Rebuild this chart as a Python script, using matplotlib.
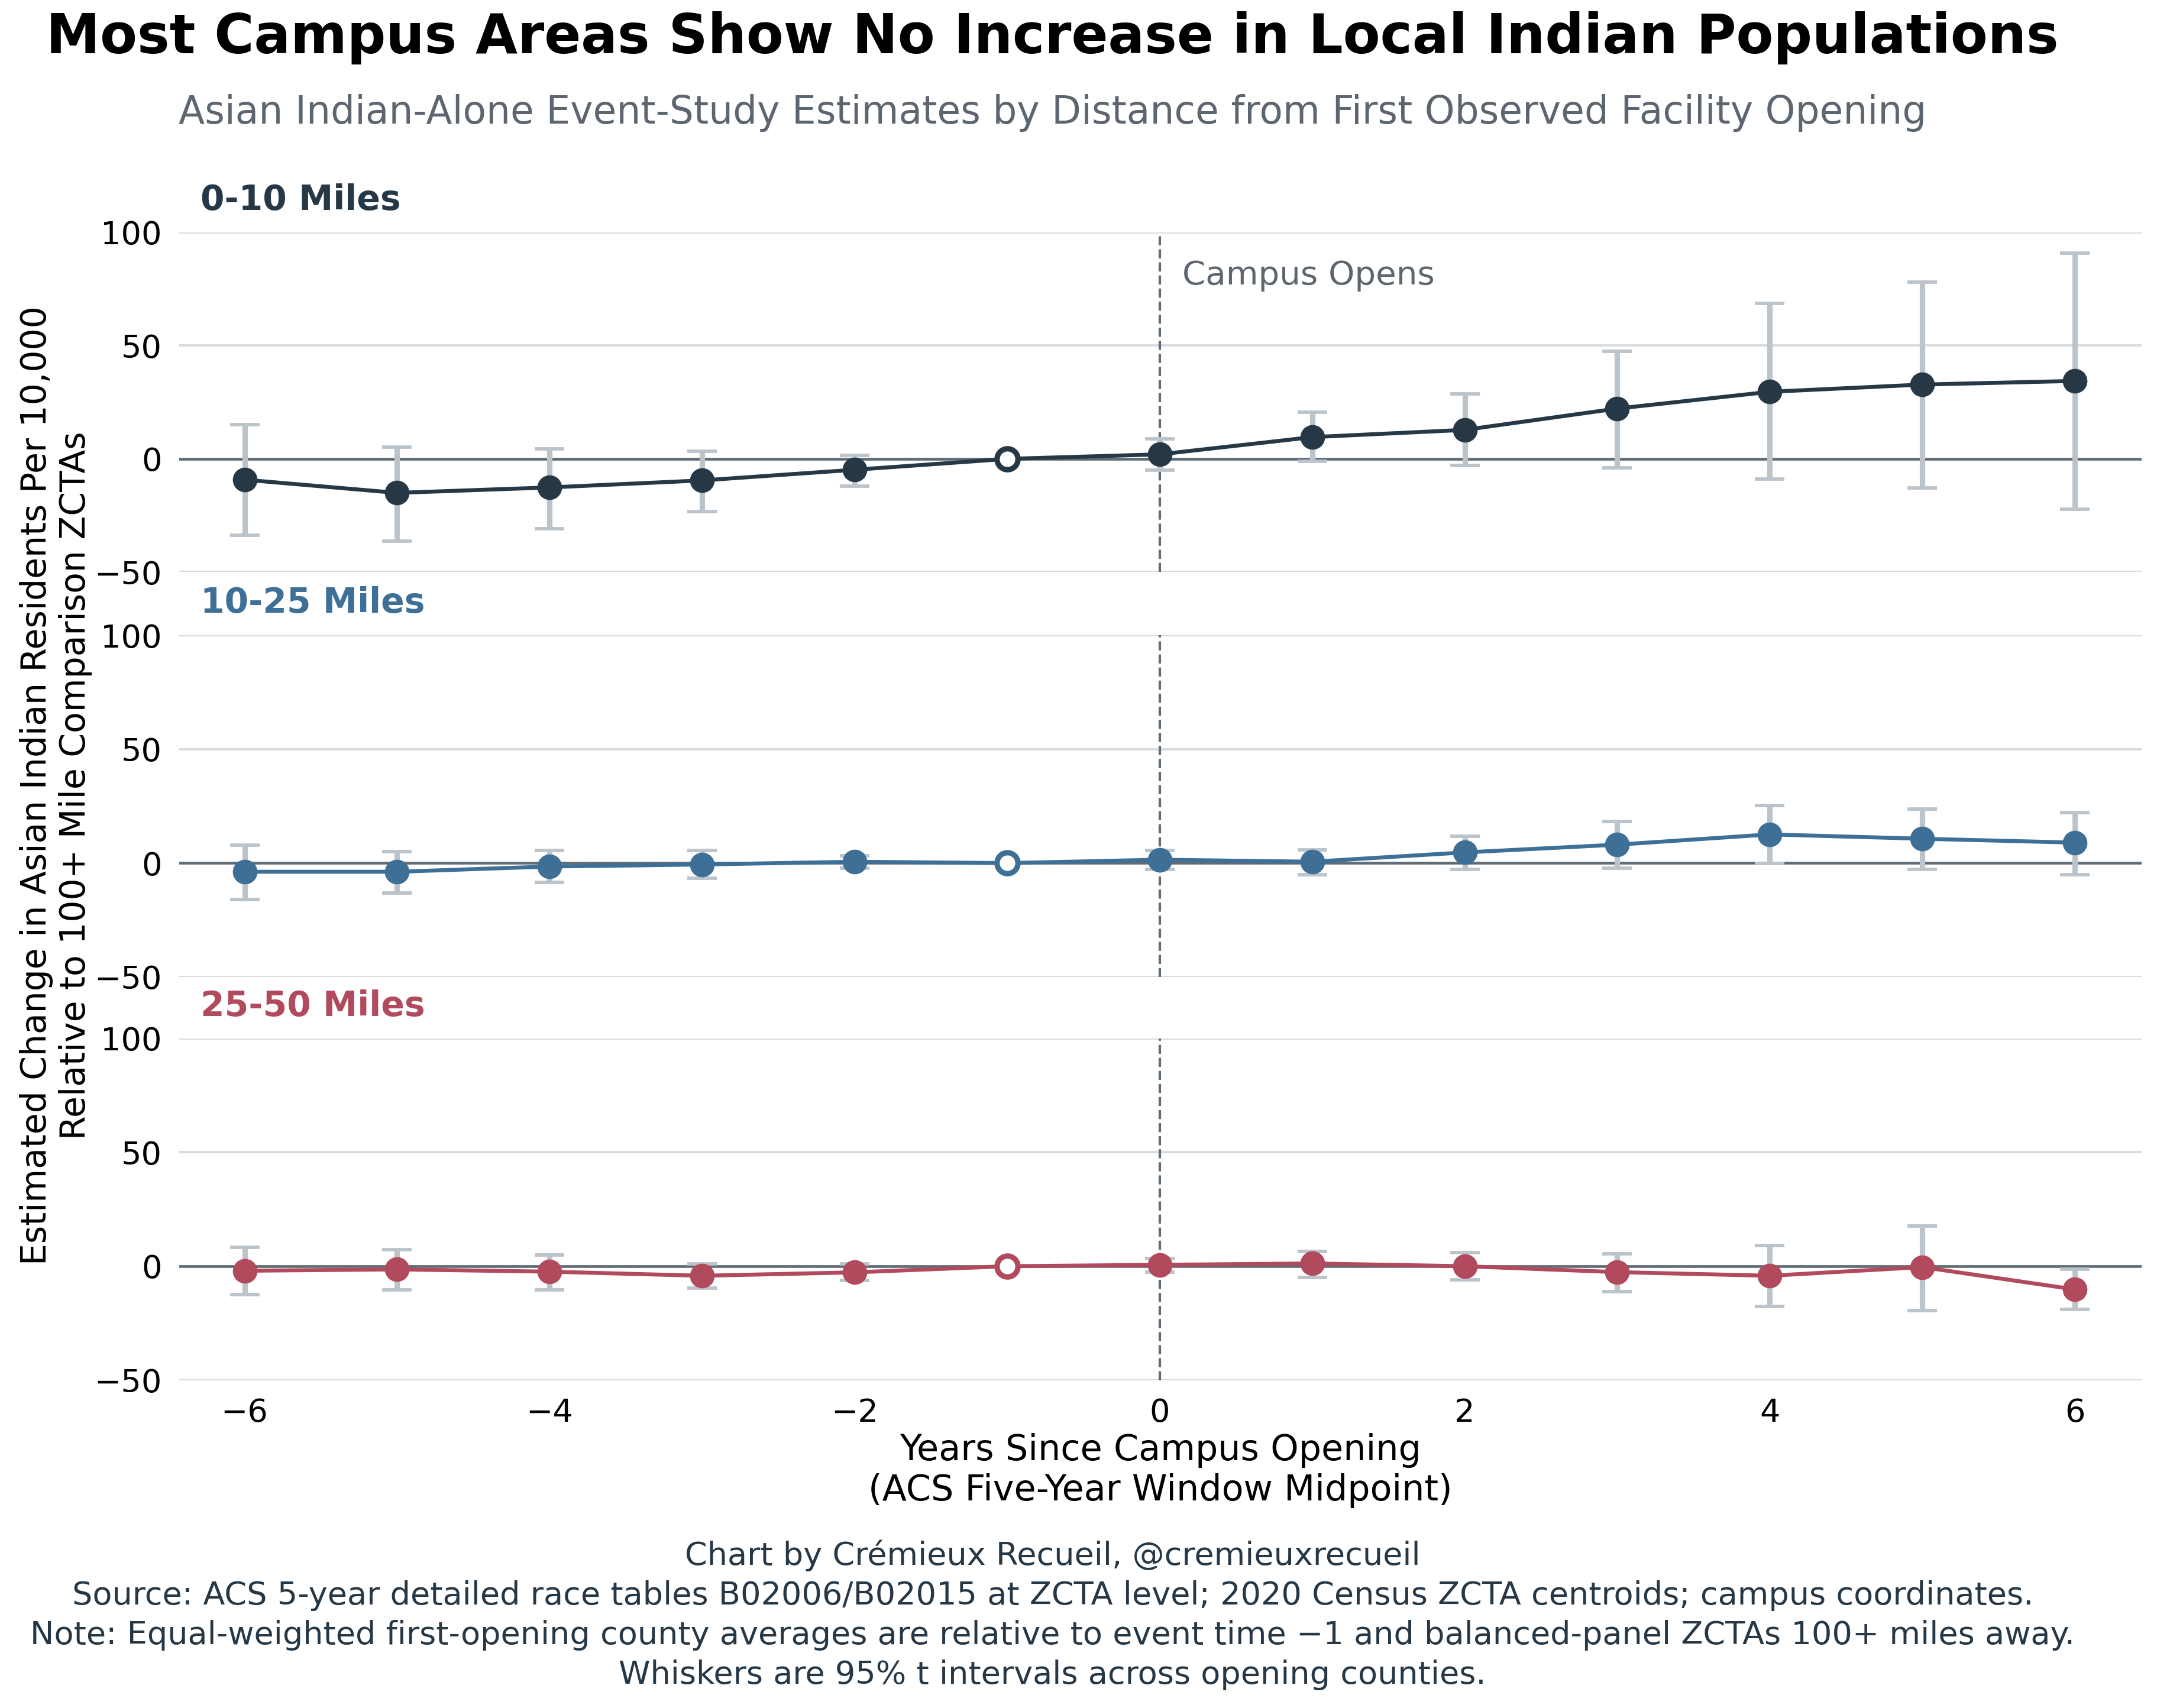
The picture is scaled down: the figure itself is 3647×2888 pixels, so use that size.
import numpy as np
import matplotlib
matplotlib.use("Agg")
from matplotlib import pyplot as plt

# event time (years since campus opening)
years = [-6, -5, -4, -3, -2, -1, 0, 1, 2, 3, 4, 5, 6]

# estimates and 95% interval bounds, per distance band (event time -1 is the reference)
est_0_10 = [-9.2, -15.0, -12.6, -9.5, -4.8, 0.0, 2.0, 9.6, 12.8, 22.2, 29.6, 32.8, 34.4]
lo_0_10 = [-33.6, -36.3, -30.7, -23.2, -12.0, np.nan, -5.0, -1.1, -2.8, -3.9, -9.0, -12.8, -22.2]
hi_0_10 = [15.0, 5.3, 4.5, 3.3, 1.5, np.nan, 8.9, 20.6, 28.6, 47.5, 68.6, 78.0, 90.9]

est_10_25 = [-3.8, -3.8, -1.5, -0.6, 0.6, 0.0, 1.5, 0.6, 4.7, 8.1, 12.6, 10.7, 9.0]
lo_10_25 = [-16.0, -13.1, -8.4, -6.6, -2.3, np.nan, -2.7, -5.0, -2.7, -2.2, -0.2, -2.7, -5.0]
hi_10_25 = [8.0, 5.1, 5.5, 5.5, 3.1, np.nan, 5.6, 5.9, 11.7, 18.3, 25.2, 23.8, 22.3]

est_25_50 = [-2.0, -1.4, -2.4, -4.2, -2.7, 0.0, 0.6, 1.2, 0.0, -2.6, -4.2, -0.4, -10.2]
lo_25_50 = [-12.5, -10.4, -10.4, -9.6, -6.3, np.nan, -2.7, -4.9, -6.1, -11.1, -17.7, -19.5, -18.9]
hi_25_50 = [8.4, 7.2, 5.0, 1.1, 1.0, np.nan, 3.3, 6.6, 6.0, 5.4, 9.2, 17.6, -1.2]

bands = ["0-10 Miles", "10-25 Miles", "25-50 Miles"]
colors = ["#263746", "#3e6f96", "#b04a5c"]
ests = [est_0_10, est_10_25, est_25_50]
los = [lo_0_10, lo_10_25, lo_25_50]
his = [hi_0_10, hi_10_25, hi_25_50]

ref_year = -1
whisker = "#bcc4cb"
grid_c = "#d9dce1"
zero_c = "#5f6b75"
text_c = "#263746"
sub_c = "#5d6670"

plt.rc('font', family='DejaVu Sans')

fig = plt.figure(figsize=(3647 / 300, 2888 / 300), dpi=300)
panel_pos = [(0.864, 0.665), (0.628, 0.428), (0.392, 0.192)]
left, right = 0.083, 0.993

axes = []
for i, (top, bot) in enumerate(panel_pos):
    ax = fig.add_axes([left, bot, right - left, top - bot])
    axes.append(ax)
    x = np.array(years, dtype=float)
    y = np.array(ests[i])
    lo = np.array(los[i])
    hi = np.array(his[i])
    keep = x != ref_year

    ax.axhline(0, color=zero_c, lw=1.1, zorder=2)
    ax.axvline(0, color=zero_c, lw=1.0, ls='--', zorder=2)
    ax.errorbar(x[keep], y[keep], yerr=[y[keep] - lo[keep], hi[keep] - y[keep]],
                fmt='none', ecolor=whisker, elinewidth=2.2, capsize=6, capthick=1.4, zorder=3)
    ax.plot(x, y, color=colors[i], lw=1.6, zorder=4)
    ax.plot(x[keep], y[keep], 'o', color=colors[i], ms=9, zorder=5)
    ax.plot(x[~keep], y[~keep], 'o', mfc='white', mec=colors[i], mew=2.2, ms=8.5, zorder=6)

    ax.set_ylim(-50, 100)
    ax.set_xlim(-6.43, 6.44)
    ax.set_yticks([-50, 0, 50, 100])
    ax.grid(axis='y', color=grid_c, lw=1.0, zorder=0)
    ax.set_axisbelow(True)
    for s in ax.spines.values():
        s.set_visible(False)
    ax.tick_params(length=0, pad=7, labelsize=13)
    ax.text(0.011, 1.045, bands[i], transform=ax.transAxes, color=colors[i],
            fontsize=14, fontweight='bold', ha='left', va='bottom')
    if i < 2:
        ax.tick_params(labelbottom=False)

axes[0].text(0.15, 81, "Campus Opens", color=sub_c, fontsize=13.5, ha='left', va='center')
axes[2].set_xticks([-6, -4, -2, 0, 2, 4, 6])
axes[2].set_xlabel("Years Since Campus Opening\n(ACS Five-Year Window Midpoint)", fontsize=14.5,
                   labelpad=2)

fig.text(0.026, 0.54, "Estimated Change in Asian Indian Residents Per 10,000\n"
         "Relative to 100+ Mile Comparison ZCTAs", rotation=90, ha='center', va='center',
         fontsize=14)

fig.text(0.488, 0.978, "Most Campus Areas Show No Increase in Local Indian Populations",
         ha='center', va='center', fontsize=22, fontweight='bold', color='black')
fig.text(0.488, 0.934, "Asian Indian-Alone Event-Study Estimates by Distance from First Observed Facility Opening",
         ha='center', va='center', fontsize=15.5, color=sub_c)

footer = ("Chart by Crémieux Recueil, @cremieuxrecueil\n"
          "Source: ACS 5-year detailed race tables B02006/B02015 at ZCTA level; 2020 Census ZCTA centroids; campus coordinates.\n"
          "Note: Equal-weighted first-opening county averages are relative to event time \u22121 and balanced-panel ZCTAs 100+ miles away.\n"
          "Whiskers are 95% t intervals across opening counties.")
fig.text(0.488, 0.0545, footer, ha='center', va='center', fontsize=13, color=text_c,
         linespacing=1.37)

fig.savefig("out.png", dpi=300)
